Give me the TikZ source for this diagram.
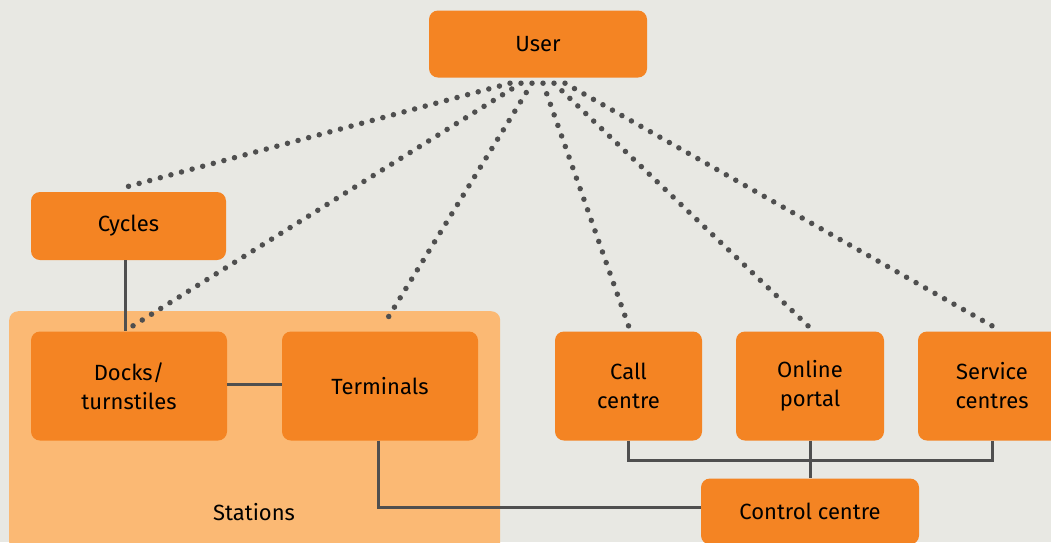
\documentclass[tikz,border=0pt]{standalone}
\usepackage{fontspec}
\setmainfont{Fira Sans}
\usetikzlibrary{positioning,calc}
\definecolor{bgcol}{HTML}{E8E8E3}
\definecolor{boxorange}{HTML}{F48423}
\definecolor{stationfill}{HTML}{FBB974}
\definecolor{linegray}{HTML}{4F4F4F}

\tikzset{
    box/.style={fill=boxorange, rounded corners=9pt, align=center, inner sep=0pt,
        font=\fontsize{22}{29}\selectfont},
    link/.style={linegray, line width=3pt},
    dots/.style={linegray, line width=5.5pt, line cap=round},
}

\begin{document}
\begin{tikzpicture}[x=1pt, y=-1pt]
    \clip (0,0) rectangle (1051,542);
    \fill[bgcol] (0,0) rectangle (1051,542);

    % Stations area
    \node[fill=stationfill, rounded corners=9pt, inner sep=0pt, anchor=north west,
        minimum width=491pt, minimum height=240pt] (stations) at (9,311) {};
    \node[font=\fontsize{22}{29}\selectfont] (stlabel) at (254,512) {Stations};

    % Boxes
    \node[box, minimum width=218pt, minimum height=67pt] (user) at (538,44) {User};
    \node[box, minimum width=195pt, minimum height=68pt] (cycles) at (128.5,226) {Cycles};
    \node[box, minimum width=196pt, minimum height=109pt] (docks) at (129,386) {Docks/\\turnstiles};
    \node[box, minimum width=196pt, minimum height=109pt] (terminals) at (380,386) {Terminals};
    \node[box, minimum width=147pt, minimum height=109pt] (call) at (628.5,386) {Call\\centre};
    \node[box, minimum width=148pt, minimum height=109pt] (online) at (810,386) {Online\\portal};
    \node[box, minimum width=148pt, minimum height=109pt] (service) at (992,386) {Service\\centres};
    \node[box, minimum width=218pt, minimum height=66pt] (control) at (810,511.5) {Control centre};

    % Solid links
    \draw[link] ($(cycles.south)+(-3.5,0)$) -- ($(docks.north)+(-4,0)$);
    \draw[link] ($(docks.east)+(0,-1.5)$) -- ($(terminals.west)+(0,-1.5)$);
    \draw[link] ($(terminals.south)+(-2,0)$) |- ($(control.west)+(0,-4)$);
    \coordinate (bus) at (810,460);
    \draw[link] (call.south) |- (bus) -| (service.south);
    \draw[link] (online.south) -- (control.north);

    % Dotted links from the user
    \foreach \dx/\tgt/\ex in {-28/cycles/0, -17/docks/4, -6/terminals/3, 5/call/0, 16/online/-2, 27/service/0} {
        \coordinate (from) at ($(user.south)+(\dx,5.5)$);
        \coordinate (to) at ($(\tgt.north)+(\ex,-5.5)$);
        \draw[dots] let \p1=($(to)-(from)$), \n1={veclen(\x1,\y1)/round(veclen(\x1,\y1)/11)}
            in [dash pattern=on 0pt off \n1] (from) -- (to);
    }
\end{tikzpicture}
\end{document}
